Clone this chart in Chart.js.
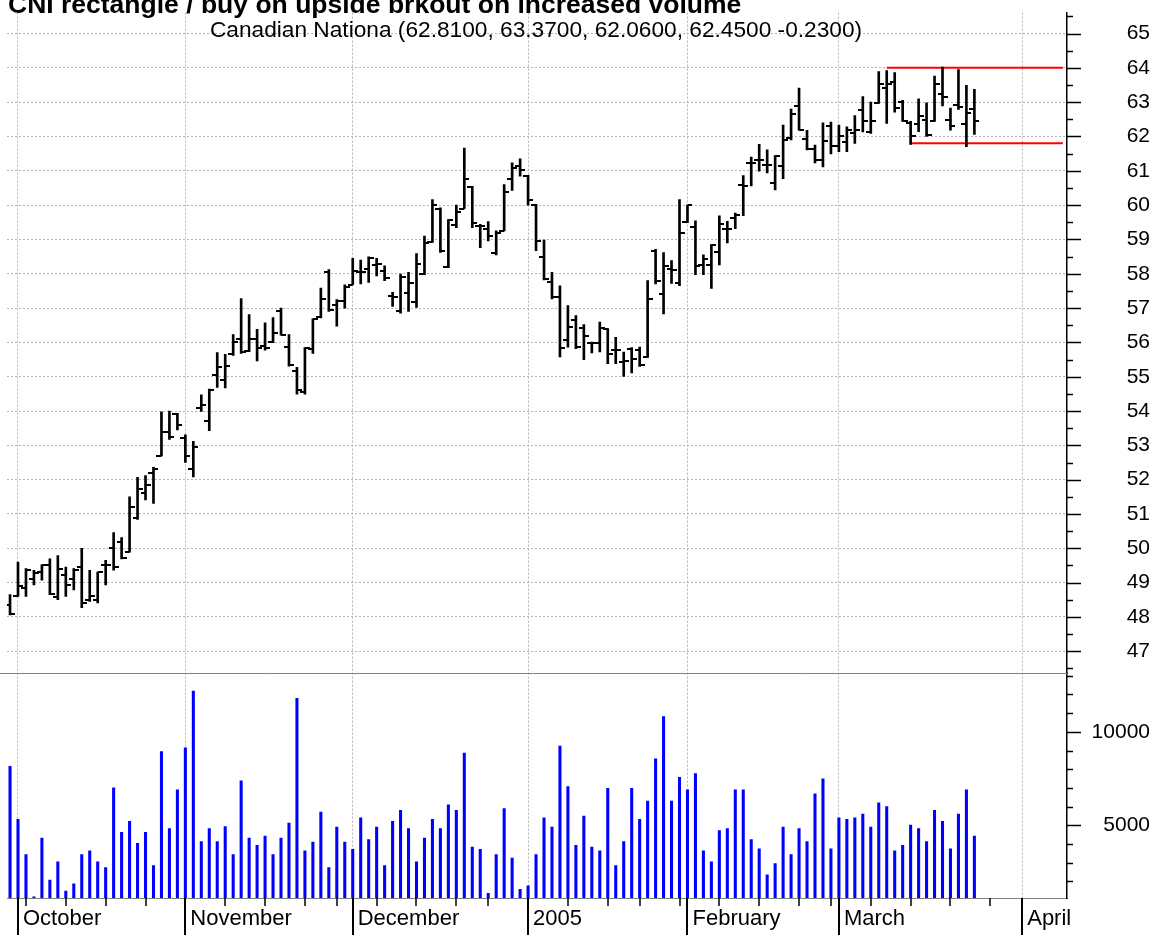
<!DOCTYPE html>
<html>
<head>
<meta charset="utf-8">
<script src="https://cdn.jsdelivr.net/npm/chart.js@4.4.0/dist/chart.umd.min.js"></script>
<style>
  html, body { margin: 0; padding: 0; background: #fff; }
</style>
</head>
<body>
<canvas id="c" width="1168" height="935"></canvas>
<script>
const titleText = 'CNI rectangle / buy on upside brkout on increased volume';
const subText = 'Canadian Nationa (62.8100, 63.3700, 62.0600, 62.4500 -0.2300)';

// daily bars, Sep 30 2004 .. Mar 24 2005 (index 0 = Sep 30)
const opens = [
  48.36, 48.62, 48.84, 49.11, 49.31, 49.50, 48.57, 49.22, 49.11, 49.46,
  48.50, 48.50, 49.50, 50.00, 50.17, 49.90, 50.89, 51.60, 52.20, 52.69,
  53.39, 53.90, 53.20, 52.30, 54.10, 53.72, 55.05, 54.90, 55.65, 56.09,
  55.75, 56.09, 55.90, 56.02, 56.90, 55.86, 55.17, 54.55, 55.80, 56.73,
  58.05, 57.10, 57.20, 57.68, 58.05, 58.15, 58.25, 58.09, 57.36, 56.90,
  57.43, 57.17, 58.00, 58.93, 59.90, 58.20, 59.42, 59.90, 60.53, 59.40,
  59.30, 58.60, 59.25, 60.75, 61.13, 60.84, 60.00, 58.49, 57.75, 57.33,
  56.06, 56.66, 56.42, 55.97, 55.98, 56.40, 55.77, 55.43, 55.82, 55.77,
  55.58, 58.67, 57.41, 58.14, 57.72, 59.52, 59.36, 58.26, 58.26, 58.64,
  59.31, 59.62, 60.60, 61.24, 61.32, 61.18, 60.65, 61.13, 61.95, 62.88,
  61.92, 61.63, 61.30, 62.30, 61.72, 61.85, 62.09, 62.78, 62.13, 62.97,
  63.41, 63.58, 63.00, 62.40, 62.35, 62.47, 62.44, 63.25, 62.47, 62.91,
  62.35, 62.81
];
const highs = [
  48.65, 49.60, 49.41, 49.36, 49.52, 49.69, 49.79, 49.45, 49.41, 50.00,
  49.36, 49.31, 49.65, 50.46, 50.31, 51.50, 52.07, 52.12, 52.36, 53.98,
  54.00, 53.93, 53.31, 53.12, 54.47, 54.64, 55.70, 55.65, 56.23, 57.28,
  56.81, 56.38, 56.57, 56.72, 57.00, 56.23, 55.27, 55.85, 56.69, 57.58,
  58.12, 57.25, 57.68, 58.45, 58.40, 58.49, 58.45, 58.23, 57.46, 57.99,
  58.04, 58.59, 59.10, 60.16, 59.92, 59.58, 60.00, 61.66, 60.55, 59.44,
  59.52, 59.25, 60.60, 61.23, 61.35, 60.87, 60.02, 58.98, 58.04, 57.65,
  57.07, 56.78, 56.52, 56.01, 56.59, 56.40, 56.15, 55.72, 55.85, 55.86,
  57.80, 58.71, 58.62, 58.38, 60.16, 60.00, 59.54, 58.55, 58.85, 59.69,
  59.53, 59.77, 60.86, 61.40, 61.77, 61.61, 61.44, 62.33, 62.80, 63.41,
  62.18, 61.75, 62.40, 62.42, 62.33, 62.28, 62.61, 63.16, 63.00, 63.89,
  63.92, 63.86, 63.05, 62.44, 63.10, 62.98, 63.76, 64.02, 62.83, 63.95,
  63.49, 63.37
];
const lows = [
  48.06, 48.60, 48.60, 48.93, 49.07, 48.65, 48.50, 48.60, 48.79, 48.27,
  48.45, 48.41, 48.93, 49.36, 49.69, 49.89, 50.84, 51.41, 51.31, 52.69,
  53.17, 53.45, 52.50, 52.08, 53.99, 53.43, 54.69, 54.67, 55.62, 55.68,
  55.73, 55.46, 55.77, 55.99, 56.21, 55.31, 54.49, 54.49, 55.68, 56.71,
  56.90, 56.47, 57.00, 57.68, 57.70, 57.75, 57.94, 57.80, 57.05, 56.85,
  56.90, 57.02, 57.97, 58.91, 58.62, 58.18, 59.34, 59.90, 59.34, 58.76,
  58.96, 58.55, 59.25, 60.43, 60.84, 60.00, 58.67, 57.82, 57.27, 55.58,
  55.86, 55.82, 55.50, 55.69, 55.72, 55.38, 55.38, 55.01, 55.11, 55.30,
  55.56, 57.70, 56.83, 57.72, 57.65, 59.49, 57.97, 57.97, 57.57, 58.26,
  58.90, 59.31, 59.69, 60.56, 60.99, 60.94, 60.44, 60.77, 61.90, 62.18,
  61.61, 61.23, 61.11, 61.49, 61.56, 61.56, 61.80, 62.13, 62.09, 62.96,
  62.38, 62.71, 62.44, 61.77, 62.14, 62.00, 62.44, 62.89, 62.18, 62.79,
  61.70, 62.06
];
const closes = [
  48.10, 48.89, 49.36, 49.27, 49.50, 48.67, 49.41, 48.93, 49.36, 48.41,
  48.60, 49.31, 49.52, 49.46, 49.71, 51.20, 51.74, 51.84, 52.31, 53.39,
  53.24, 53.60, 52.70, 52.95, 54.18, 54.62, 55.28, 55.31, 56.02, 55.73,
  56.09, 55.83, 55.83, 56.28, 56.21, 55.34, 54.60, 55.83, 56.67, 57.25,
  56.93, 57.20, 57.60, 58.07, 58.05, 58.47, 58.28, 57.87, 57.33, 57.90,
  57.72, 58.28, 58.91, 60.00, 58.67, 59.56, 59.81, 60.76, 59.49, 59.39,
  59.10, 59.20, 60.39, 61.08, 61.03, 60.16, 58.94, 57.85, 57.31, 55.85,
  56.46, 55.86, 56.20, 55.99, 56.42, 55.67, 55.79, 55.46, 55.53, 55.33,
  57.27, 57.80, 58.23, 58.10, 59.20, 60.00, 58.23, 58.43, 58.85, 59.44,
  59.31, 59.71, 60.57, 61.24, 61.30, 61.18, 61.42, 61.89, 62.64, 62.18,
  61.63, 61.32, 61.87, 61.72, 62.00, 62.18, 62.20, 62.45, 62.45, 63.52,
  63.52, 62.83, 62.44, 62.00, 62.60, 62.04, 63.52, 63.15, 62.30, 62.86,
  62.68, 62.45
];
const volumes = [
  8155, 5319, 3441, 1186, 4325, 2074, 3048, 1489, 1878, 3441,
  3634, 3048, 2750, 7005, 4628, 5213, 4043, 4628, 2856, 8952,
  4824, 6899, 9149, 12181, 4131, 4824, 4131, 4930, 3441, 7377,
  4325, 3936, 4431, 3441, 4325, 5124, 11792, 3634, 4112, 5707,
  2750, 4911, 4112, 3723, 5408, 4238, 4911, 2856, 5213, 5798,
  4824, 3048, 4325, 5319, 4824, 6100, 5798, 8867, 3846, 3723,
  1367, 3441, 5904, 3245, 1580, 1772, 3441, 5408, 4911, 9239,
  7074, 3936, 5495, 3846, 3634, 6984, 2856, 4131, 6984, 5319,
  6293, 8564, 10814, 6293, 7569, 6899, 7766, 3634, 3048, 4718,
  4824, 6899, 6899, 4238, 3740, 2357, 2963, 4911, 3441, 4824,
  4131, 6686, 7484, 3740, 5408, 5319, 5408, 5601, 4911, 6207,
  6011, 3634, 3936, 5018, 4824, 4131, 5798, 5213, 3740, 5601,
  6899, 4431
];

// x axis: first trading day of each month, and weekly ticks (Mondays)
const monthIdx = [1, 22, 43, 65, 85, 104, 127];
const monthLabels = ['October', 'November', 'December', '2005', 'February', 'March', 'April'];
const weekIdx = [2, 7, 12, 17, 27, 32, 37, 41, 46, 51, 56, 60, 70, 75, 79, 84,
                 89, 94, 99, 103, 108, 113, 118, 123];

// right axis labels
const priceLabels = [47, 48, 49, 50, 51, 52, 53, 54, 55, 56, 57, 58, 59, 60, 61, 62, 63, 64, 65];
const volumeLabels = [5000, 10000];

// rectangle drawn on the chart
const resistance = { from: 110, to: 132.1, level: 64.0 };
const support = { from: 113, to: 132.1, level: 61.8 };

const FONT = '"Liberation Sans", Arial, sans-serif';
Chart.defaults.font.family = FONT;

// minor ticks every half point / every 1000 shares
const priceTicks = [];
for (let v = 46.5; v <= 65.5; v += 0.5) priceTicks.push(v);
const volTicks = [];
for (let v = 2000; v <= 13000; v += 1000) volTicks.push(v);

function tickImg(side) {
    const c = document.createElement('canvas');
    c.width = 10;
    c.height = 2;
    const g = c.getContext('2d');
    g.fillStyle = '#000';
    g.fillRect(side === 'left' ? 0 : 5, 0, 5, 2);
    return c;
}
const openImg = tickImg('left');
const closeImg = tickImg('right');

const decorations = {
    id: 'decorations',
    afterDraw(chart) {
        const ctx = chart.ctx;
        const area = chart.chartArea;
        const sx = chart.scales.x;
        const sy = chart.scales.y;
        const sv = chart.scales.yv;
        ctx.save();

        // separator between price and volume panels
        ctx.strokeStyle = '#808080';
        ctx.lineWidth = 1;
        ctx.beginPath();
        ctx.moveTo(0, Math.round(sv.top) + 0.5);
        ctx.lineTo(area.right, Math.round(sv.top) + 0.5);
        ctx.stroke();

        // right axis tick marks
        ctx.strokeStyle = '#000';
        ctx.lineWidth = 1.5;
        [sy, sv].forEach((s) => {
            s.ticks.forEach((t) => {
                const py = Math.round(s.getPixelForValue(t.value)) + 0.5;
                ctx.beginPath();
                ctx.moveTo(s.left, py);
                ctx.lineTo(s.left + (t.big ? 14 : 6), py);
                ctx.stroke();
            });
        });

        // bottom ticks: long month lines and short week ticks
        sx.ticks.forEach((t) => {
            const px = Math.round(sx.getPixelForValue(t.value));
            ctx.lineWidth = t.big ? 2 : 1.5;
            ctx.beginPath();
            ctx.moveTo(px, area.bottom);
            ctx.lineTo(px, t.big ? chart.height : area.bottom + 8);
            ctx.stroke();
        });

        // texts
        ctx.fillStyle = '#000';
        ctx.textBaseline = 'alphabetic';
        ctx.font = 'bold 26.5px ' + FONT;
        ctx.textAlign = 'left';
        ctx.fillText(titleText, 8, 13);
        ctx.font = '22.7px ' + FONT;
        ctx.textAlign = 'center';
        ctx.fillText(subText, 536, 37);
        ctx.restore();
    },
};

new Chart(document.getElementById('c'), {
    type: 'bar',
    data: {
        datasets: [
            {
                type: 'bar',
                data: highs.map((h, i) => ({ x: i, y: [lows[i], h] })),
                yAxisID: 'y',
                backgroundColor: '#000000',
                barThickness: 2,
                grouped: false,
                borderWidth: 0,
            },
            {
                type: 'scatter',
                data: opens.map((o, i) => ({ x: i, y: o })),
                yAxisID: 'y',
                pointStyle: openImg,
                pointRadius: 3,
            },
            {
                type: 'scatter',
                data: closes.map((c, i) => ({ x: i, y: c })),
                yAxisID: 'y',
                pointStyle: closeImg,
                pointRadius: 3,
            },
            {
                type: 'line',
                data: [
                    { x: resistance.from, y: resistance.level },
                    { x: resistance.to, y: resistance.level },
                ],
                yAxisID: 'y',
                borderColor: '#ff0000',
                borderWidth: 2,
                pointRadius: 0,
            },
            {
                type: 'line',
                data: [
                    { x: support.from, y: support.level },
                    { x: support.to, y: support.level },
                ],
                yAxisID: 'y',
                borderColor: '#ff0000',
                borderWidth: 2,
                pointRadius: 0,
            },
            {
                type: 'bar',
                data: volumes.map((v, i) => ({ x: i, y: v })),
                yAxisID: 'yv',
                backgroundColor: '#0000ff',
                barThickness: 2.4,
                grouped: false,
                borderWidth: 0,
            },
        ],
    },
    options: {
        responsive: false,
        animation: false,
        devicePixelRatio: 1,
        layout: {
            padding: { left: 7, right: 18, top: 8, bottom: 0 },
        },
        plugins: {
            legend: { display: false },
            tooltip: { enabled: false },
        },
        scales: {
            x: {
                type: 'linear',
                min: -0.38,
                max: 132.62,
                offset: false,
                afterBuildTicks: (scale) => {
                    scale.ticks = monthIdx
                        .map((v) => ({ value: v, big: true }))
                        .concat(weekIdx.map((v) => ({ value: v, big: false })))
                        .sort((a, b) => a.value - b.value);
                },
                afterFit: (scale) => {
                    scale.height = 37;
                },
                grid: {
                    offset: false,
                    drawTicks: false,
                    color: (ctx) =>
                        ctx.tick && monthIdx.includes(ctx.tick.value)
                            ? '#b4b4b4'
                            : 'rgba(0,0,0,0)',
                },
                border: {
                    display: true,
                    color: '#808080',
                    width: 1,
                    dash: [2, 2],
                },
                ticks: {
                    autoSkip: false,
                    maxRotation: 0,
                    minRotation: 0,
                    align: 'start',
                    labelOffset: 5,
                    padding: 8,
                    color: '#000000',
                    font: { size: 22 },
                    callback: (value) => {
                        const k = monthIdx.indexOf(value);
                        return k >= 0 ? monthLabels[k] : '';
                    },
                },
            },
            y: {
                type: 'linear',
                position: 'right',
                stack: 'panels',
                stackWeight: 664,
                min: 46.362,
                max: 65.609,
                afterBuildTicks: (scale) => {
                    scale.ticks = priceTicks.map((v) => ({
                        value: v,
                        big: priceLabels.includes(v),
                    }));
                },
                afterFit: (scale) => {
                    scale.width = 83;
                },
                grid: {
                    drawTicks: false,
                    color: (ctx) =>
                        ctx.tick && priceLabels.includes(ctx.tick.value)
                            ? '#b4b4b4'
                            : 'rgba(0,0,0,0)',
                },
                border: {
                    display: true,
                    color: '#000000',
                    width: 1.5,
                    dash: [2, 2],
                },
                ticks: {
                    autoSkip: false,
                    crossAlign: 'far',
                    padding: 0,
                    color: '#000000',
                    font: { size: 21 },
                    callback: (value) =>
                        priceLabels.includes(value) ? String(value) : '',
                },
            },
            yv: {
                type: 'linear',
                position: 'right',
                stack: 'panels',
                stackWeight: 226,
                min: 1117,
                max: 13138,
                afterBuildTicks: (scale) => {
                    scale.ticks = volTicks.map((v) => ({
                        value: v,
                        big: volumeLabels.includes(v),
                    }));
                },
                afterFit: (scale) => {
                    scale.width = 83;
                },
                grid: { display: false, drawTicks: false },
                border: { display: true, color: '#000000', width: 1.5 },
                ticks: {
                    autoSkip: false,
                    crossAlign: 'far',
                    padding: 0,
                    color: '#000000',
                    font: { size: 21 },
                    callback: (value) =>
                        volumeLabels.includes(value) ? String(value) : '',
                },
            },
        },
    },
    plugins: [decorations],
});
</script>
</body>
</html>
